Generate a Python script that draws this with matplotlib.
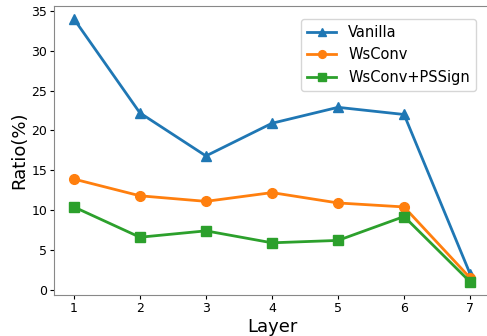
import matplotlib
matplotlib.use("Agg")
import matplotlib.pyplot as plt

layers = [1, 2, 3, 4, 5, 6, 7]
vanilla = [34.0, 22.2, 16.8, 20.9, 22.9, 22.0, 2.0]
wsconv = [13.9, 11.8, 11.1, 12.2, 10.9, 10.4, 1.5]
wsconv_pssign = [10.4, 6.6, 7.4, 5.9, 6.2, 9.2, 1.0]

fig = plt.figure(figsize=(4.87, 3.36), dpi=100)
ax = fig.add_axes([0.111, 0.122, 0.895, 0.861])

ax.plot(layers, vanilla, color="#1f77b4", marker="^", markersize=7, linewidth=2, label="Vanilla")
ax.plot(layers, wsconv, color="#ff7f0e", marker="o", markersize=7, linewidth=2, label="WsConv")
ax.plot(layers, wsconv_pssign, color="#2ca02c", marker="s", markersize=7, linewidth=2, label="WsConv+PSSign")

ax.set_xlabel("Layer", fontsize=13, labelpad=2)
ax.set_ylabel("Ratio(%)", fontsize=13, labelpad=2)
ax.set_yticks([0, 5, 10, 15, 20, 25, 30, 35])
ax.tick_params(labelsize=9, length=3, pad=2)
for s in ax.spines.values():
    s.set_color("#888888")
ax.legend(fontsize=10.5, loc="upper right", bbox_to_anchor=(0.984, 0.978), markerscale=0.8)

fig.savefig("out.png", dpi=100)
